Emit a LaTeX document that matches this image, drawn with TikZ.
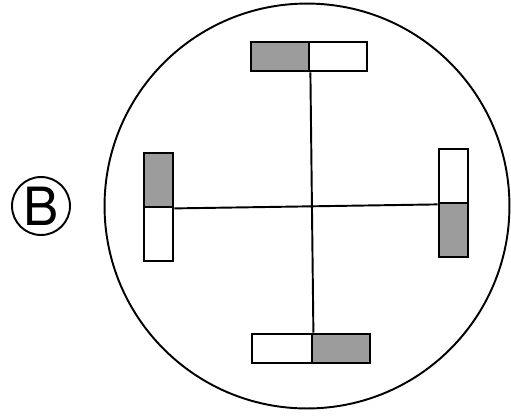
\documentclass[tikz,border=0pt]{standalone}
\usepackage{fontspec}
\setsansfont{TeX Gyre Heros}
\usepackage{tikz}
\usetikzlibrary{positioning}
\definecolor{barfill}{HTML}{9C9C9C}
\tikzset{
  hbar/.style={draw,line width=1.6pt,minimum width=1.16cm,minimum height=0.58cm,inner sep=0pt},
  vbar/.style={draw,line width=1.6pt,minimum width=0.58cm,minimum height=1.08cm,inner sep=0pt},
  shaded/.style={fill=barfill},
  arm/.style={line width=1.1pt}
}
\begin{document}
\begin{tikzpicture}[x=0.02cm,y=-0.02cm]
  \useasboundingbox (0,0) rectangle (511,417);
  % Outer circle
  \node[draw,circle,line width=1.1pt,minimum size=8.1cm,inner sep=0pt] (dish) at (307,206) {};
  % Label
  \node[draw,circle,line width=1.1pt,minimum size=1.16cm,inner sep=0pt,
    font=\sffamily\fontsize{30}{32}\selectfont] (markB) at (41,206) {B};
  % Bars
  \node[hbar,shaded] (topG) at (280,56.5) {};
  \node[hbar] (topW) at (338,56.5) {};
  \node[hbar,minimum width=1.2cm] (botW) at (282,348.5) {};
  \node[hbar,shaded] (botG) at (341,348.5) {};
  \node[vbar,shaded] (leftG) at (158.5,180) {};
  \node[vbar] (leftW) at (158.5,234) {};
  \node[vbar] (rightW) at (453.5,176) {};
  \node[vbar,shaded] (rightG) at (453.5,230) {};
  % Arms
  \draw[arm] (topG.south east) -- (botW.north east);
  \draw[arm] (leftG.south east) -- (rightW.south west);
\end{tikzpicture}
\end{document}
